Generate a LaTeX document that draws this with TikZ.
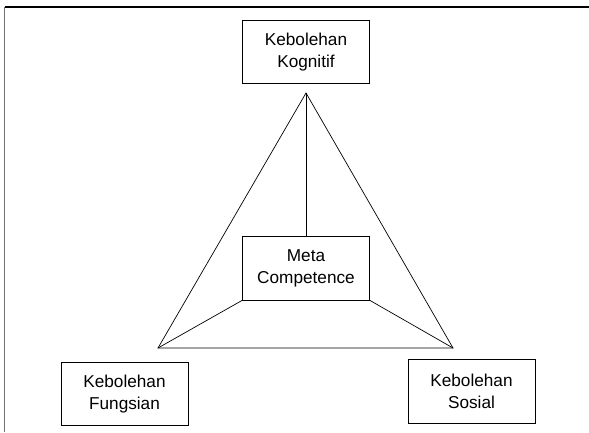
\documentclass[tikz,border=0pt]{standalone}
\usepackage{fontspec}
\setmainfont{Liberation Sans}
\begin{document}
\begin{tikzpicture}[x=1pt,y=-1pt,
  b/.style={draw,align=center,minimum width=127pt,minimum height=63pt,inner sep=0pt,line width=0.8pt,font=\fontsize{17.2}{22}\selectfont},
  ln/.style={line width=0.7pt}
]
\useasboundingbox (0,0) rectangle (589,432);
\draw[line width=1.1pt] (4.5,7) -- (589,7);
\draw[line width=1.3pt,black!55] (4.5,7) -- (4.5,432);
\node[b] (kog) at (306,52) {Kebolehan\\Kognitif};
\node[b,minimum height=64pt] (meta) at (306,268) {Meta\\Competence};
\node[b] (fung) at (124.5,394) {Kebolehan\\Fungsian};
\node[b,minimum height=64pt] (sos) at (471.5,391) {Kebolehan\\Sosial};
\coordinate (top) at (306,93);
\coordinate (kiri) at (158,348);
\coordinate (kanan) at (453,348);
\draw[ln] (top) -- (kiri) -- (kanan) -- cycle;
\draw[ln] (top) -- (meta.north);
\draw[ln] (meta.south west) -- (kiri);\draw[ln] (meta.south east) -- (kanan);
\end{tikzpicture}
\end{document}
